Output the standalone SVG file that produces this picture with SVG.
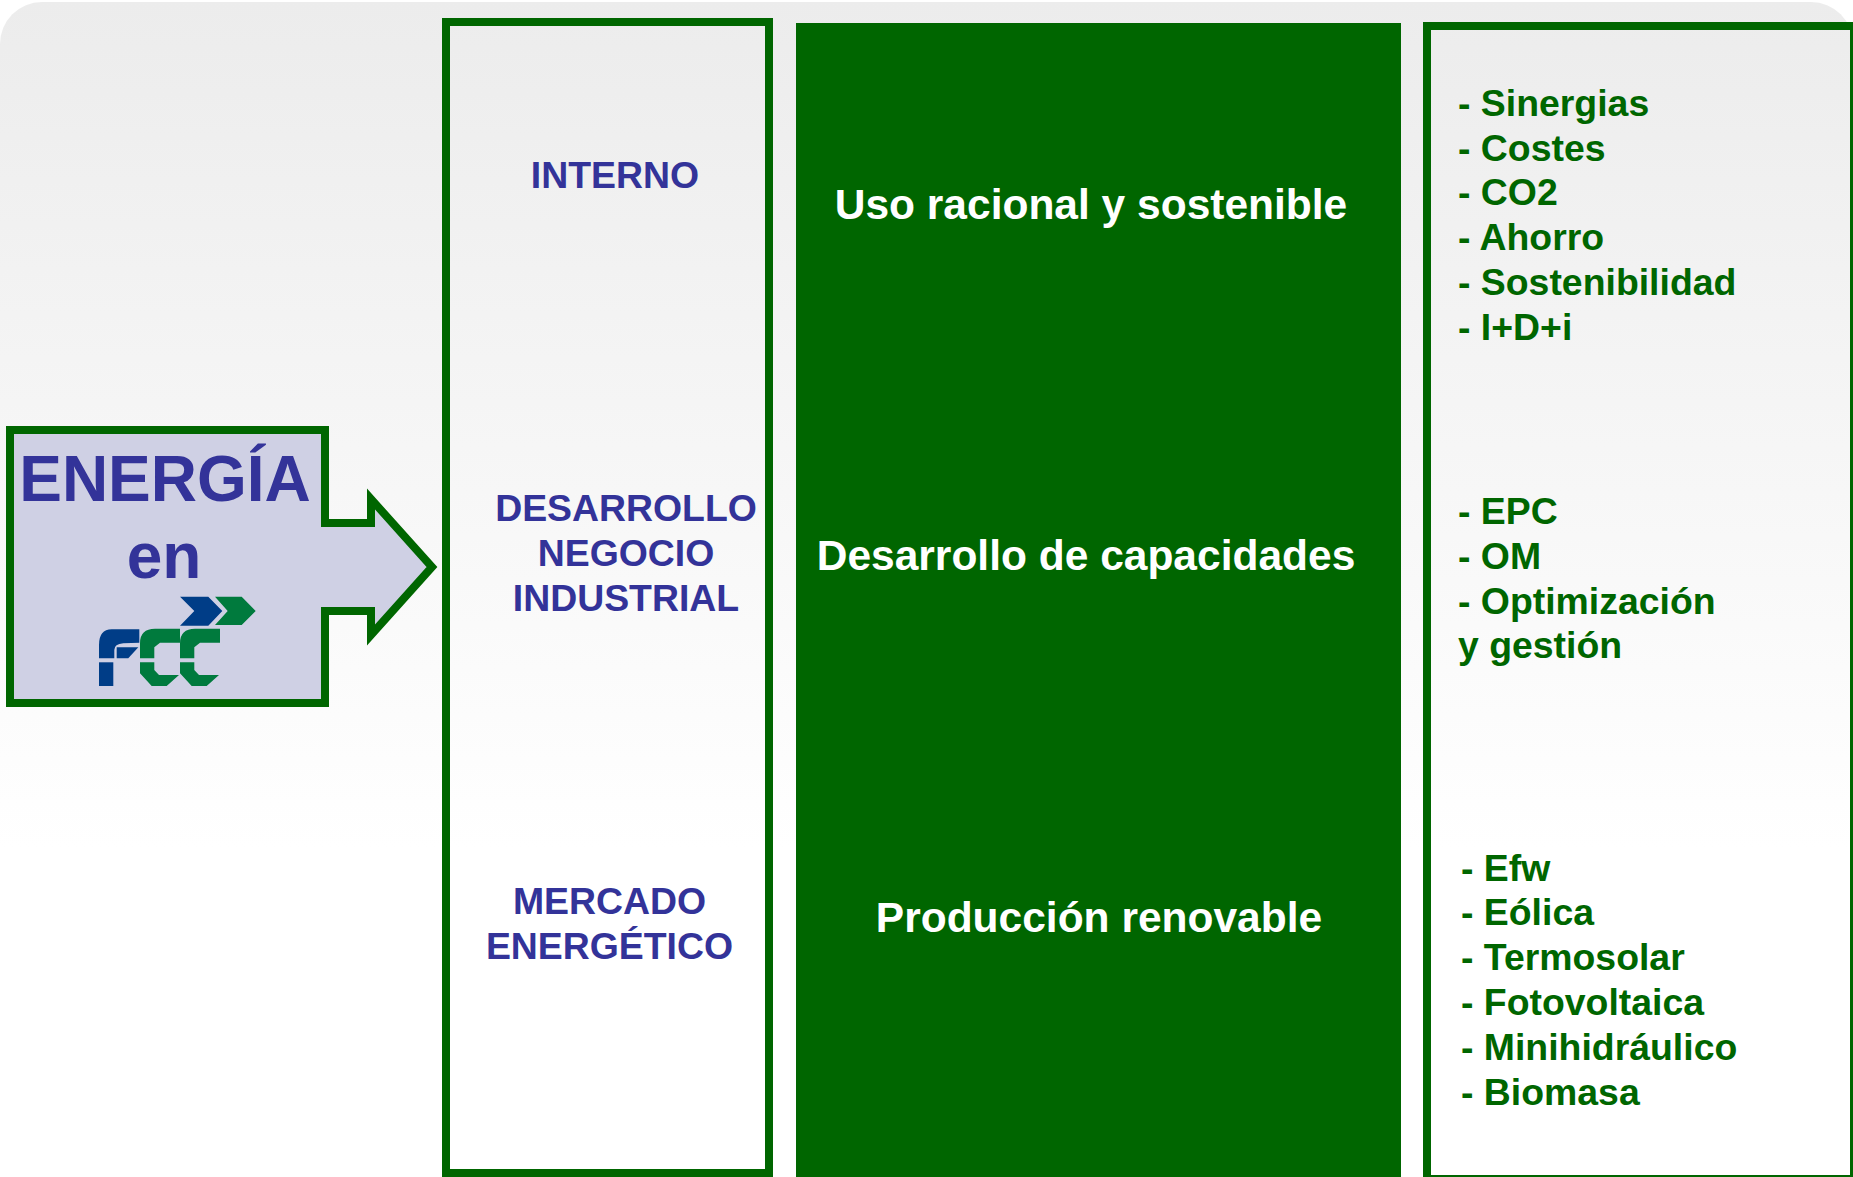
<svg xmlns="http://www.w3.org/2000/svg" width="1853" height="1177" viewBox="0 0 1853 1177">
<style>
text{font-family:"Liberation Sans",Arial,sans-serif;font-weight:700}
.h{font-size:37.4px;fill:#333399;text-anchor:middle}
.e{font-size:64px}
.w{font-size:42.5px;fill:#fff;text-anchor:middle}
.g{font-size:37.4px;fill:#006600}
.box{fill:none;stroke:#006600;stroke-width:8}
.b{fill:#003d87}
.c{fill:#007a3d}
</style>
<defs>
<linearGradient id="bg" x1="0" y1="0" x2="0" y2="1"><stop offset="0" stop-color="#ececec"/><stop offset="0.72" stop-color="#fff"/></linearGradient>
<filter id="soft" x="-5%" y="-5%" width="110%" height="110%"><feGaussianBlur stdDeviation="0.6"/></filter>
<g id="cc"><path class="c" d="M140 658.300V643.300Q140 628.800 155 628.800H180V642.700H160L154.300 647.300V658.300Z"/><path class="c" d="M140 662.300H154.300V670L159 675H179L166.700 686H151.700L140 673.300Z"/></g>
</defs>
<rect id="background" x="0" y="2" width="1853" height="1175" rx="42" fill="url(#bg)"/>
<g id="energia">
<path d="M10 430H325V523H371V499L432 567L371 635V611H325V703H10Z" fill="#cfd0e4" stroke="#006600" stroke-width="8"/>
<text class="h e" x="165" y="501">ENERGÍA</text>
<text class="h e" x="164" y="578">en</text>
<g id="logo" filter="url(#soft)">
<path class="b" d="M180 596.700H208.300L222.300 611L208.300 625.700H180L194.300 611Z"/>
<path class="c" d="M215 596.700H241.700L255.700 611L241.700 625H215L227.700 611Z"/>
<path class="b" d="M99 658.300V645Q99 629.300 111.700 629.300H139.300V642.700L123.300 643.300Q114.300 644 114.300 650V658.300Z"/>
<path class="b" d="M116.700 647.300H138.300L128.300 658.300H116.700Z"/>
<rect class="b" x="99" y="662.300" width="14.300" height="23.700"/>
<use href="#cc"/>
<use href="#cc" x="40"/>
</g>
</g>
<g id="col-ambito">
<rect class="box" x="446" y="22" width="323" height="1151"/>
<text class="h" x="615" y="188">INTERNO</text>
<text class="h" x="626" y="521">DESARROLLO</text>
<text class="h" x="626" y="566">NEGOCIO</text>
<text class="h" x="626" y="611">INDUSTRIAL</text>
<text class="h" x="609.500" y="914">MERCADO</text>
<text class="h" x="609.500" y="959">ENERGÉTICO</text>
</g>
<g id="col-objetivo">
<rect x="796" y="23" width="605" height="1154" fill="#006600"/>
<text class="w" x="1091" y="219">Uso racional y sostenible</text>
<text class="w" x="1086" y="570">Desarrollo de capacidades</text>
<text class="w" x="1099" y="932">Producción renovable</text>
</g>
<g id="col-detalle">
<rect class="box" x="1427" y="26" width="427" height="1153"/>
<text class="g" x="1458" y="116">- Sinergias</text>
<text class="g" x="1458" y="161">- Costes</text>
<text class="g" x="1458" y="205">- CO2</text>
<text class="g" x="1458" y="250">- Ahorro</text>
<text class="g" x="1458" y="295">- Sostenibilidad</text>
<text class="g" x="1458" y="340">- I+D+i</text>
<text class="g" x="1458" y="524">- EPC</text>
<text class="g" x="1458" y="569">- OM</text>
<text class="g" x="1458" y="614">- Optimización</text>
<text class="g" x="1458" y="658">y gestión</text>
<text class="g" x="1461" y="881">- Efw</text>
<text class="g" x="1461" y="925">- Eólica</text>
<text class="g" x="1461" y="970">- Termosolar</text>
<text class="g" x="1461" y="1015">- Fotovoltaica</text>
<text class="g" x="1461" y="1060">- Minihidráulico</text>
<text class="g" x="1461" y="1105">- Biomasa</text>
</g>
</svg>
